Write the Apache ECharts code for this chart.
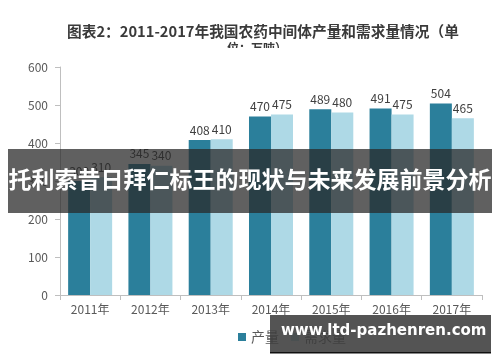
<!DOCTYPE html>
<html><head><meta charset="utf-8">
<script src="https://cdn.jsdelivr.net/npm/echarts@6/dist/echarts.min.js"></script>
<style>html,body{margin:0;padding:0;background:#fff}#c{width:500px;height:362px}</style>
</head><body><div id="c"></div>
<script>
var categories = ['2011年','2012年','2013年','2014年','2015年','2016年','2017年'];
var production = [300, 345, 408, 470, 489, 491, 504];
var demand = [310, 340, 410, 475, 480, 475, 465];
var seriesNames = ['产量', '需求量'];
var titleLine1 = '图表2：2011-2017年我国农药中间体产量和需求量情况（单';
var titleLine2 = '位：万吨）';
var bannerText = '托利索昔日拜仁标王的现状与未来发展前景分析';
var siteText = 'www.ltd-pazhenren.com';

var FONT = '"Noto Sans CJK SC", "Noto Sans", sans-serif';
var chart = echarts.init(document.getElementById('c'), null, {renderer: 'canvas'});
chart.setOption({
  backgroundColor: '#fff',
  animation: false,
  textStyle: {fontFamily: FONT},
  title: [
    {text: titleLine1, left: 62, top: 19, textStyle: {fontSize: 14.7, fontWeight: 'bold', color: '#3a3a3a', fontFamily: FONT}},
    {text: titleLine2, left: 222, top: 37, textStyle: {fontSize: 12, fontWeight: 'bold', color: '#3a3a3a', fontFamily: FONT}}
  ],
  grid: {left: 60, right: 18, top: 67, bottom: 67},
  legend: {
    data: seriesNames, left: 233, top: 325, itemWidth: 8, itemHeight: 8, itemGap: 12,
    icon: 'rect', textStyle: {fontSize: 14, color: '#595959', fontFamily: FONT}
  },
  xAxis: {
    type: 'category', data: categories,
    axisLine: {lineStyle: {color: '#bfbfbf'}},
    axisTick: {show: true, alignWithLabel: false, lineStyle: {color: '#bfbfbf'}},
    axisLabel: {fontSize: 12, color: '#595959', margin: 8}
  },
  yAxis: {
    type: 'value', min: 0, max: 600, interval: 100,
    axisLine: {show: true, lineStyle: {color: '#bfbfbf'}},
    axisTick: {show: true, lineStyle: {color: '#bfbfbf'}},
    splitLine: {show: false},
    axisLabel: {fontSize: 12, color: '#595959', margin: 12}
  },
  series: [
    {name: seriesNames[0], type: 'bar', data: production, barGap: '0%', barCategoryGap: '27%',
     itemStyle: {color: '#2b7f9b'},
     label: {show: true, position: 'top', fontSize: 12, color: '#404040', distance: 4}},
    {name: seriesNames[1], type: 'bar', data: demand, barGap: '0%', barCategoryGap: '27%',
     itemStyle: {color: '#aed9e6'},
     label: {show: true, position: 'top', fontSize: 12, color: '#404040', distance: 4}}
  ],
  graphic: [
    {type: 'rect', z: 100, shape: {x: 200, y: 48, width: 100, height: 10}, style: {fill: '#fff'}},
    {type: 'rect', z: 100, shape: {x: 8, y: 149, width: 484, height: 64}, style: {fill: 'rgba(40,40,40,0.74)'}},
    {type: 'text', z: 101, left: 'center', top: 168, style: {text: bannerText, fill: '#fff', font: 'bold 23px ' + FONT}},
    {type: 'rect', z: 100, shape: {x: 270, y: 315, width: 221, height: 38}, style: {fill: 'rgba(60,60,60,0.88)'}},
    {type: 'rect', z: 100, shape: {x: 270, y: 352, width: 221, height: 1.5}, style: {fill: '#111'}},
    {type: 'text', z: 101, left: 281, top: 324, style: {text: siteText, fill: '#fff', font: 'bold 15px "DejaVu Sans", sans-serif'}}
  ]
});
</script></body></html>
